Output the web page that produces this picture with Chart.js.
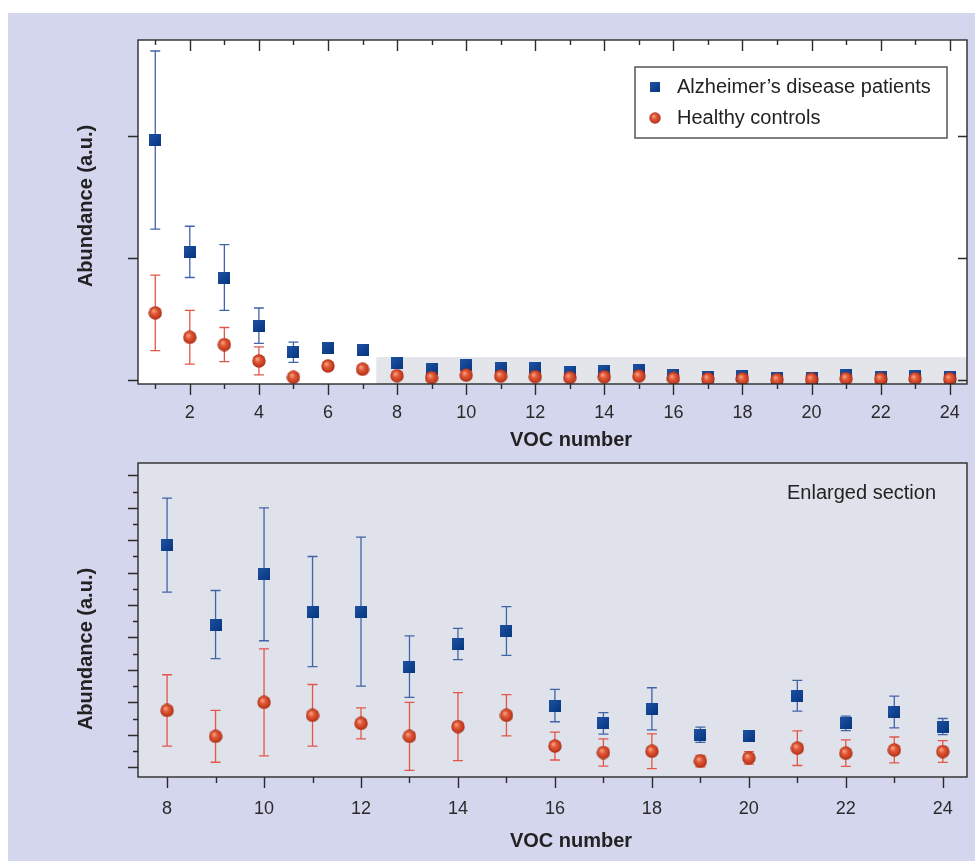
<!DOCTYPE html>
<html>
<head>
<meta charset="utf-8">
<script src="https://cdn.jsdelivr.net/npm/chart.js@4.4.1/dist/chart.umd.min.js"></script>
<style>
  html, body { margin: 0; padding: 0; background: #ffffff; }
  #page { position: relative; width: 975px; height: 861px; overflow: hidden; }
  #bg { position: absolute; left: 8px; top: 13px; right: 0; bottom: 0; background: #d4d6ee; }
  canvas { position: absolute; left: 0; }
  #top { top: 0; }
  #zoom { top: 455px; }
</style>
</head>
<body>
<div id="page">
  <div id="bg"></div>
  <canvas id="top" width="975" height="455"></canvas>
  <canvas id="zoom" width="975" height="406"></canvas>
</div>
<script>
// VOC number on x, abundance (a.u.) on y
const vocNumbers = [1, 2, 3, 4, 5, 6, 7, 8, 9, 10, 11, 12, 13, 14, 15, 16, 17, 18, 19, 20, 21, 22, 23, 24];

const adMean = [1.967, 1.05, 0.84, 0.445, 0.227, 0.265, 0.246, 0.137, 0.088, 0.119, 0.096, 0.096,
                0.062, 0.076, 0.084, 0.038, 0.027, 0.036, 0.020, 0.019, 0.044, 0.027, 0.034, 0.025];
const adErr  = [0.73, 0.21, 0.27, 0.145, 0.083, 0.015, 0.015, 0.029, 0.021, 0.041, 0.034, 0.046,
                0.019, 0.0096, 0.015, 0.010, 0.0066, 0.013, 0.0047, 0.002, 0.0095, 0.0045, 0.0098, 0.005];
const hcMean = [0.55, 0.35, 0.29, 0.156, 0.022, 0.115, 0.088, 0.035, 0.019, 0.040, 0.032, 0.027,
                0.019, 0.025, 0.032, 0.013, 0.009, 0.0098, 0.0037, 0.0057, 0.0117, 0.0086, 0.0106, 0.0096];
const hcErr  = [0.31, 0.22, 0.14, 0.115, 0.012, 0.015, 0.015, 0.022, 0.016, 0.033, 0.019, 0.0096,
                0.021, 0.021, 0.0127, 0.0086, 0.0084, 0.0107, 0.0035, 0.0039, 0.0107, 0.0082, 0.008, 0.0067];

const seriesNames = ["Alzheimer\u2019s disease patients", "Healthy controls"];
const xTitle = "VOC number";
const yTitle = "Abundance (a.u.)";
const zoomNote = "Enlarged section";

const xLabelsTop = [2, 4, 6, 8, 10, 12, 14, 16, 18, 20, 22, 24];
const xLabelsZoom = [8, 10, 12, 14, 16, 18, 20, 22, 24];
const yTicksTop = [0, 1, 2];
const yTicksZoom = [0, 0.01, 0.02, 0.03, 0.04, 0.05, 0.06, 0.07, 0.08, 0.09,
                    0.10, 0.11, 0.12, 0.13, 0.14, 0.15, 0.16, 0.17, 0.18];

// axis ranges; the enlarged section is the grey band of the top plot
const xRangeTop = [0.5, 24.5];
const yRangeTop = [-0.033, 2.787];
const zoomX = [7.4, 24.5];
const zoomY = [-0.0061, 0.1877];

const FONT = "'Liberation Sans', Arial, Helvetica, sans-serif";
const INK = '#222222';

function squareMarker(size) {
    const c = document.createElement('canvas');
    c.width = c.height = size;
    const g = c.getContext('2d');
    const grad = g.createLinearGradient(0, 0, size, size);
    grad.addColorStop(0, '#1d52a3');
    grad.addColorStop(1, '#07357e');
    g.fillStyle = grad;
    g.fillRect(0, 0, size, size);
    return c;
}

function sphereMarker(size) {
    const c = document.createElement('canvas');
    c.width = c.height = size;
    const g = c.getContext('2d');
    const r = size / 2;
    const grad = g.createRadialGradient(r * 0.75, r * 0.7, r * 0.1, r, r, r);
    grad.addColorStop(0, '#f59a7c');
    grad.addColorStop(0.35, '#e05a38');
    grad.addColorStop(0.8, '#c3391e');
    grad.addColorStop(1, '#9a2a14');
    g.fillStyle = grad;
    g.beginPath();
    g.arc(r, r, r - 0.3, 0, Math.PI * 2);
    g.fill();
    return c;
}

const squareImg = squareMarker(12);
const sphereImg = sphereMarker(14);
const legendSquare = squareMarker(10);
const legendSphere = sphereMarker(12);

// per-canvas decoration settings
const decor = {
    top: {
        plotBg: '#ffffff',
        band: true,
        xTicks: vocNumbers, xMajor: xLabelsTop, xLong: 11, xShort: 5, topTicks: true,
        yTicks: yTicksTop, yMajorEvery: 1, yLong: 10, yShort: 10, rightTicks: 9,
        xTitlePos: [571, 440], yTitlePos: [86, 206],
        legend: true
    },
    zoom: {
        plotBg: '#dfe2ea',
        band: false,
        xTicks: vocNumbers.filter(v => v >= 8), xMajor: xLabelsZoom, xLong: 11, xShort: 6, topTicks: false,
        yTicks: yTicksZoom, yMajorEvery: 2, yLong: 10, yShort: 5, rightTicks: 0,
        xTitlePos: [571, 386.5], yTitlePos: [86, 194],
        note: true
    }
};

const decorPlugin = {
    id: 'decor',
    beforeDraw(chart) {
        const d = decor[chart.canvas.id];
        const {ctx, chartArea: a, scales: {x, y}} = chart;
        ctx.save();
        ctx.fillStyle = d.plotBg;
        ctx.fillRect(a.left, a.top, a.right - a.left, a.bottom - a.top);
        if (d.band) {
            const bx0 = x.getPixelForValue(zoomX[0]);
            const bx1 = Math.min(a.right, x.getPixelForValue(zoomX[1]));
            const by0 = y.getPixelForValue(zoomY[1]);
            ctx.fillStyle = '#e3e5ea';
            ctx.fillRect(bx0, by0, bx1 - bx0, a.bottom - by0);
        }
        ctx.restore();
    },
    beforeDatasetDraw(chart, args) {
        const ds = chart.data.datasets[args.index];
        const {ctx, chartArea: a, scales: {x, y}} = chart;
        ctx.save();
        ctx.beginPath();
        ctx.rect(a.left, a.top, a.right - a.left, a.bottom - a.top);
        ctx.clip();
        ctx.strokeStyle = ds.errColor;
        ctx.lineWidth = 1.3;
        ctx.beginPath();
        ds.data.forEach((p, i) => {
            const e = ds.errors[i];
            const px = x.getPixelForValue(p.x);
            const hi = y.getPixelForValue(p.y + e);
            const lo = y.getPixelForValue(p.y - e);
            ctx.moveTo(px, hi); ctx.lineTo(px, lo);
            ctx.moveTo(px - 5, hi); ctx.lineTo(px + 5, hi);
            ctx.moveTo(px - 5, lo); ctx.lineTo(px + 5, lo);
        });
        ctx.stroke();
        ctx.restore();
    },
    afterDraw(chart) {
        const d = decor[chart.canvas.id];
        const {ctx, chartArea: a, scales: {x, y}} = chart;
        ctx.save();
        ctx.strokeStyle = '#2b2b2b';
        ctx.lineWidth = 1.4;
        ctx.beginPath();
        d.xTicks.forEach(v => {
            const px = Math.round(x.getPixelForValue(v)) + 0.5;
            const len = d.xMajor.includes(v) ? d.xLong : d.xShort;
            ctx.moveTo(px, a.bottom); ctx.lineTo(px, a.bottom + len);
            if (d.topTicks) { ctx.moveTo(px, a.top); ctx.lineTo(px, a.top + len); }
        });
        d.yTicks.forEach((v, i) => {
            const py = Math.round(y.getPixelForValue(v)) + 0.5;
            const len = i % d.yMajorEvery === 0 ? d.yLong : d.yShort;
            ctx.moveTo(a.left - len, py); ctx.lineTo(a.left, py);
            if (d.rightTicks) { ctx.moveTo(a.right - d.rightTicks, py); ctx.lineTo(a.right, py); }
        });
        ctx.stroke();
        ctx.strokeRect(a.left, a.top, a.right - a.left, a.bottom - a.top);

        // axis titles
        ctx.fillStyle = INK;
        ctx.font = `bold 20px ${FONT}`;
        ctx.textAlign = 'center';
        ctx.textBaseline = 'middle';
        ctx.fillText(xTitle, d.xTitlePos[0], d.xTitlePos[1]);
        ctx.save();
        ctx.translate(d.yTitlePos[0], d.yTitlePos[1]);
        ctx.rotate(-Math.PI / 2);
        ctx.fillText(yTitle, 0, 0);
        ctx.restore();

        if (d.legend) {
            ctx.fillStyle = '#ffffff';
            ctx.fillRect(635, 67, 312, 71);
            ctx.strokeStyle = '#555555';
            ctx.lineWidth = 1.5;
            ctx.strokeRect(635, 67, 312, 71);
            ctx.drawImage(legendSquare, 650, 82);
            ctx.drawImage(legendSphere, 649, 112);
            ctx.fillStyle = INK;
            ctx.font = `20px ${FONT}`;
            ctx.textAlign = 'left';
            ctx.fillText(seriesNames[0], 677, 87);
            ctx.fillText(seriesNames[1], 677, 118);
        }
        if (d.note) {
            ctx.fillStyle = INK;
            ctx.font = `20px ${FONT}`;
            ctx.textAlign = 'right';
            ctx.fillText(zoomNote, a.right - 31, a.top + 30);
        }
        ctx.restore();
    }
};

function makeDatasets(keep) {
    const idx = vocNumbers.map((v, i) => i).filter(i => keep(vocNumbers[i]));
    return [
        {
            label: seriesNames[0],
            data: idx.map(i => ({x: vocNumbers[i], y: adMean[i]})),
            errors: idx.map(i => adErr[i]),
            errColor: '#4064a8',
            pointStyle: squareImg,
            pointRadius: 7,
            order: 1
        },
        {
            label: seriesNames[1],
            data: idx.map(i => ({x: vocNumbers[i], y: hcMean[i]})),
            errors: idx.map(i => hcErr[i]),
            errColor: '#e2564a',
            pointStyle: sphereImg,
            pointRadius: 7,
            order: 0
        }
    ];
}

function xScale(range, labels, padding, height) {
    return {
        type: 'linear', min: range[0], max: range[1],
        grid: {display: false, drawTicks: false},
        border: {display: false},
        ticks: {font: {family: FONT, size: 18}, color: '#2a2a2a', padding: padding, maxRotation: 0, autoSkip: false},
        afterBuildTicks: s => { s.ticks = labels.map(v => ({value: v})); },
        afterFit: s => { s.height = height; s.paddingLeft = 0; s.paddingRight = 0; }
    };
}

function yScale(range, width) {
    return {
        type: 'linear', min: range[0], max: range[1],
        grid: {display: false, drawTicks: false},
        border: {display: false},
        ticks: {display: false},
        afterFit: s => { s.width = width; s.paddingTop = 0; s.paddingBottom = 0; }
    };
}

function baseOptions(padding, scales) {
    return {
        responsive: false,
        animation: false,
        events: [],
        layout: {padding: padding},
        plugins: {legend: {display: false}, tooltip: {enabled: false}},
        scales: scales
    };
}

new Chart(document.getElementById('top'), {
    type: 'scatter',
    data: {datasets: makeDatasets(() => true)},
    options: baseOptions({left: 0, top: 40, right: 6, bottom: 0}, {
        x: xScale(xRangeTop, xLabelsTop, 18, 71),
        y: yScale(yRangeTop, 138)
    }),
    plugins: [decorPlugin]
});

new Chart(document.getElementById('zoom'), {
    type: 'scatter',
    data: {datasets: makeDatasets(v => v >= 8)},
    options: baseOptions({left: 0, top: 6, right: 5, bottom: 0}, {
        x: xScale(zoomX, xLabelsZoom, 21, 84),
        y: yScale(zoomY, 138)
    }),
    plugins: [decorPlugin]
});
</script>
</body>
</html>
